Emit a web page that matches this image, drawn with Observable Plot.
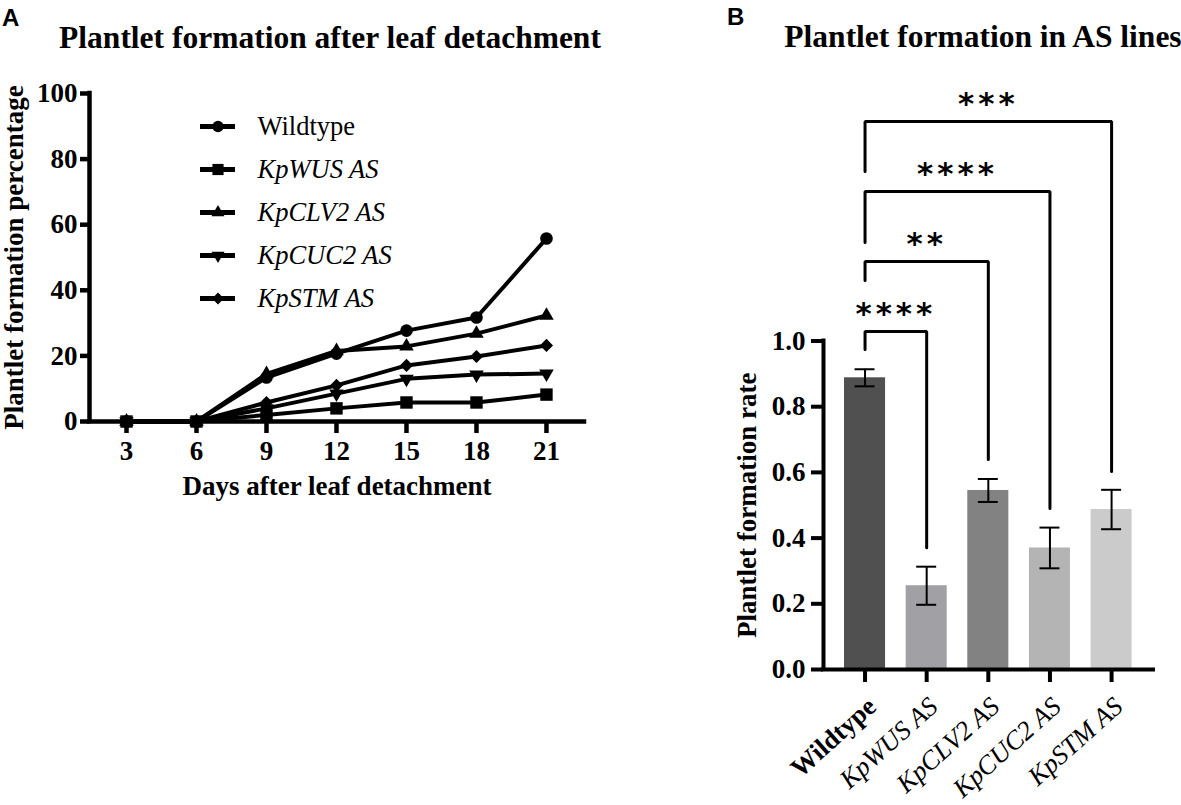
<!DOCTYPE html>
<html>
<head>
<meta charset="utf-8">
<script src="https://cdn.jsdelivr.net/npm/d3@7"></script>
<script src="https://cdn.jsdelivr.net/npm/@observablehq/plot@0.6"></script>
<style>
  body { margin: 0; background: white; }
  #wrap { position: relative; width: 1181px; height: 805px; overflow: hidden; font-family: "Liberation Serif", serif; color: black; }
  .title { position: absolute; font-family: "Liberation Serif", serif; font-weight: bold; font-size: 31.5px; line-height: 1; white-space: nowrap; transform: translateX(-50%); }
  .tag { position: absolute; font-family: "Liberation Sans", Arial, sans-serif; font-weight: bold; font-size: 24px; line-height: 1; z-index: 5; }
</style>
</head>
<body>
<div id="wrap">
  <div class="tag" style="left:2px; top:6px; font-size:24px;">A</div>
  <div class="tag" style="left:727px; top:5px; font-size:24px;">B</div>
  <div class="title" style="left:330px; top:22px;">Plantlet formation after leaf detachment</div>
  <div class="title" style="left:983px; top:21px;">Plantlet formation in AS lines</div>
</div>
<script>
// ---------- Panel A data ----------
const days = [3, 6, 9, 12, 15, 18, 21];
const seriesNames = ["Wildtype", "KpWUS AS", "KpCLV2 AS", "KpCUC2 AS", "KpSTM AS"];
const wildtype = [0, 0, 13.4, 20.7, 27.7, 31.7, 55.8];
const kpWUS    = [0, 0, 2.0, 4.0, 5.8, 5.8, 8.2];
const kpCLV2   = [0, 0, 14.5, 21.5, 22.9, 26.8, 32.3];
const kpCUC2   = [0, 0, 4.0, 8.5, 13.0, 14.3, 14.6];
const kpSTM    = [0, 0, 5.8, 11.0, 17.1, 19.8, 23.2];
const yTicksA  = [0, 20, 40, 60, 80, 100];

// ---------- Panel B data ----------
const lines     = ["Wildtype", "KpWUS AS", "KpCLV2 AS", "KpCUC2 AS", "KpSTM AS"];
const rateMean  = [0.888, 0.255, 0.545, 0.370, 0.487];
const rateErr   = [0.026, 0.058, 0.035, 0.062, 0.060];
const barColors = ["#505050", "#a1a1a5", "#828282", "#b4b4b4", "#cbcbcb"];
const yTicksB   = [0, 0.2, 0.4, 0.6, 0.8, 1.0];
const sigLabels = ["****", "**", "****", "***"];
const sigTarget = [1, 2, 3, 4];
const bracketTop      = [1.029, 1.242, 1.455, 1.668];
const bracketLeftEnd  = [0.974, 1.184, 1.300, 1.516];
const bracketRightEnd = [0.371, 0.639, 0.490, 0.603];

// ---------- shared style ----------
const SERIF = "Liberation Serif";
const seriesValues = [wildtype, kpWUS, kpCLV2, kpCUC2, kpSTM];
const sqrt3 = Math.sqrt(3);
const triangleDown = {
  draw(context, size) {
    const y = -Math.sqrt(size / (sqrt3 * 3));
    context.moveTo(0, -y * 2);
    context.lineTo(-sqrt3 * y, y);
    context.lineTo(sqrt3 * y, y);
    context.closePath();
  }
};
const symbols = ["circle", "square", "triangle", triangleDown, "diamond2"];
const symbolR = [6.3, 7, 5.4, 5.4, 5.9];

const longA = [];
seriesNames.forEach((s, k) => days.forEach((d, j) => longA.push({series: s, day: d, value: seriesValues[k][j]})));

const wrap = document.getElementById("wrap");
const baseStyle = (left, top) => ({position: "absolute", left: left + "px", top: top + "px", background: "transparent", overflow: "visible", fontFamily: SERIF, color: "black"});

// ---------- Panel A ----------
const xDomA = [1.414, 22.63];
const plotA = Plot.plot({
  width: 700, height: 805,
  marginLeft: 89, marginRight: 116, marginTop: 93, marginBottom: 384,
  style: baseStyle(0, 0),
  x: {domain: xDomA},
  y: {domain: [0, 100]},
  marks: [
    Plot.line(longA, {x: "day", y: "value", z: "series", stroke: "black", strokeWidth: 4, strokeLinejoin: "round"}),
    ...seriesNames.map((s, k) => Plot.dot(longA.filter(d => d.series === s), {x: "day", y: "value", symbol: symbols[k], r: symbolR[k], fill: "black", stroke: "none"})),
    Plot.ruleX([xDomA[0]], {stroke: "black", strokeWidth: 4.5, strokeLinecap: "square"}),
    Plot.ruleY([0], {stroke: "black", strokeWidth: 4.5, strokeLinecap: "square"}),
    Plot.axisY({ticks: yTicksA, tickSize: 9, tickPadding: 3, strokeWidth: 4.5, fontSize: 27, fontWeight: "bold", fontFamily: SERIF, fill: "black", label: null}),
    Plot.axisX({ticks: days, tickSize: 12, tickPadding: 7, strokeWidth: 4.5, fontSize: 27, fontWeight: "bold", fontFamily: SERIF, fill: "black", label: null}),
    Plot.text(["Plantlet formation percentage"], {frameAnchor: "left", dx: -75, rotate: -90, textAnchor: "middle", lineAnchor: "middle", fontSize: 27, fontWeight: "bold", fontFamily: SERIF, fill: "black"}),
    Plot.text(["Days after leaf detachment"], {frameAnchor: "bottom", dy: 65, textAnchor: "middle", lineAnchor: "middle", fontSize: 27, fontWeight: "bold", fontFamily: SERIF, fill: "black"})
  ]
});
wrap.appendChild(plotA);

// ---------- Legend for panel A ----------
const legend = Plot.plot({
  width: 260, height: 230,
  marginLeft: 10, marginRight: 215, marginTop: 25, marginBottom: 32,
  style: baseStyle(190, 100),
  x: {domain: [0, 1], axis: null},
  y: {type: "point", domain: seriesNames, padding: 0, axis: null},
  marks: [
    Plot.ruleY(seriesNames, {y: d => d, x1: d => 0, x2: d => 1, stroke: "black", strokeWidth: 5}),
    ...seriesNames.map((s, k) => Plot.dot([s], {x: d => 0.5, y: d => d, symbol: symbols[k], r: symbolR[k] * 0.9, fill: "black", stroke: "none"})),
    Plot.text(seriesNames.slice(0, 1), {x: d => 1, y: d => d, text: d => d, dx: 22, textAnchor: "start", fontSize: 26.5, fontFamily: SERIF, fill: "black"}),
    Plot.text(seriesNames.slice(1), {x: d => 1, y: d => d, text: d => d, dx: 22, textAnchor: "start", fontSize: 26.5, fontStyle: "italic", fontFamily: SERIF, fill: "black"})
  ]
});
wrap.appendChild(legend);

// ---------- Panel B ----------
const bars = lines.map((name, i) => ({i, name, mean: rateMean[i], err: rateErr[i], color: barColors[i]}));
const half = 0.333, cap = 0.162;
const bracketPts = [];
sigTarget.forEach((t, k) => {
  bracketPts.push({k, x: 0, y: bracketLeftEnd[k]});
  bracketPts.push({k, x: 0, y: bracketTop[k]});
  bracketPts.push({k, x: t, y: bracketTop[k]});
  bracketPts.push({k, x: t, y: bracketRightEnd[k]});
});
const stars = sigTarget.map((t, k) => ({x: t / 2, y: bracketTop[k], label: sigLabels[k]}));
const xDomB = [-0.674, 4.68];
const plotB = Plot.plot({
  width: 481, height: 805,
  marginLeft: 123, marginRight: 28, marginTop: 340.5, marginBottom: 136,
  style: baseStyle(700, 0),
  x: {domain: xDomB},
  y: {domain: [0, 1]},
  marks: [
    Plot.rectY(bars, {x1: d => d.i - half, x2: d => d.i + half, y1: d => 0, y2: "mean", fill: "color"}),
    Plot.ruleX(bars, {x: "i", y1: d => d.mean - d.err, y2: d => d.mean + d.err, stroke: "black", strokeWidth: 2}),
    Plot.ruleY(bars, {y: d => d.mean - d.err, x1: d => d.i - cap, x2: d => d.i + cap, stroke: "black", strokeWidth: 2}),
    Plot.ruleY(bars, {y: d => d.mean + d.err, x1: d => d.i - cap, x2: d => d.i + cap, stroke: "black", strokeWidth: 2}),
    Plot.line(bracketPts, {x: "x", y: "y", z: "k", stroke: "black", strokeWidth: 3, strokeLinejoin: "miter"}),
    Plot.text(stars, {x: "x", y: "y", text: "label", dy: -17, fontSize: 31, fontWeight: "bold", fontFamily: "DejaVu Sans", fill: "black"}),
    Plot.ruleX([xDomB[0]], {stroke: "black", strokeWidth: 4, strokeLinecap: "square"}),
    Plot.ruleY([0], {stroke: "black", strokeWidth: 4, strokeLinecap: "square"}),
    Plot.axisY({ticks: yTicksB, tickFormat: d3.format(".1f"), tickSize: 12, tickPadding: 6, strokeWidth: 4, fontSize: 27, fontWeight: "bold", fontFamily: SERIF, fill: "black", label: null}),
    Plot.axisX({ticks: bars.map(d => d.i), tickFormat: () => "", tickSize: 13, strokeWidth: 4, label: null}),
    Plot.text(bars.slice(0, 1), {x: "i", y: d => 0, text: "name", rotate: -42, textAnchor: "end", dx: 7, dy: 33, fontSize: 26.5, fontWeight: "bold", fontFamily: SERIF, fill: "black"}),
    Plot.text(bars.slice(1), {x: "i", y: d => 0, text: "name", rotate: -42, textAnchor: "end", dx: 7, dy: 33, fontSize: 26.5, fontStyle: "italic", fontFamily: SERIF, fill: "black"}),
    Plot.text(["Plantlet formation rate"], {frameAnchor: "left", dx: -76, rotate: -90, textAnchor: "middle", lineAnchor: "middle", fontSize: 27, fontWeight: "bold", fontFamily: SERIF, fill: "black"})
  ]
});
d3.select(plotB).selectAll("text").filter(function() { return this.textContent.includes("*"); }).style("letter-spacing", "4px");
wrap.appendChild(plotB);
</script>
</body>
</html>
